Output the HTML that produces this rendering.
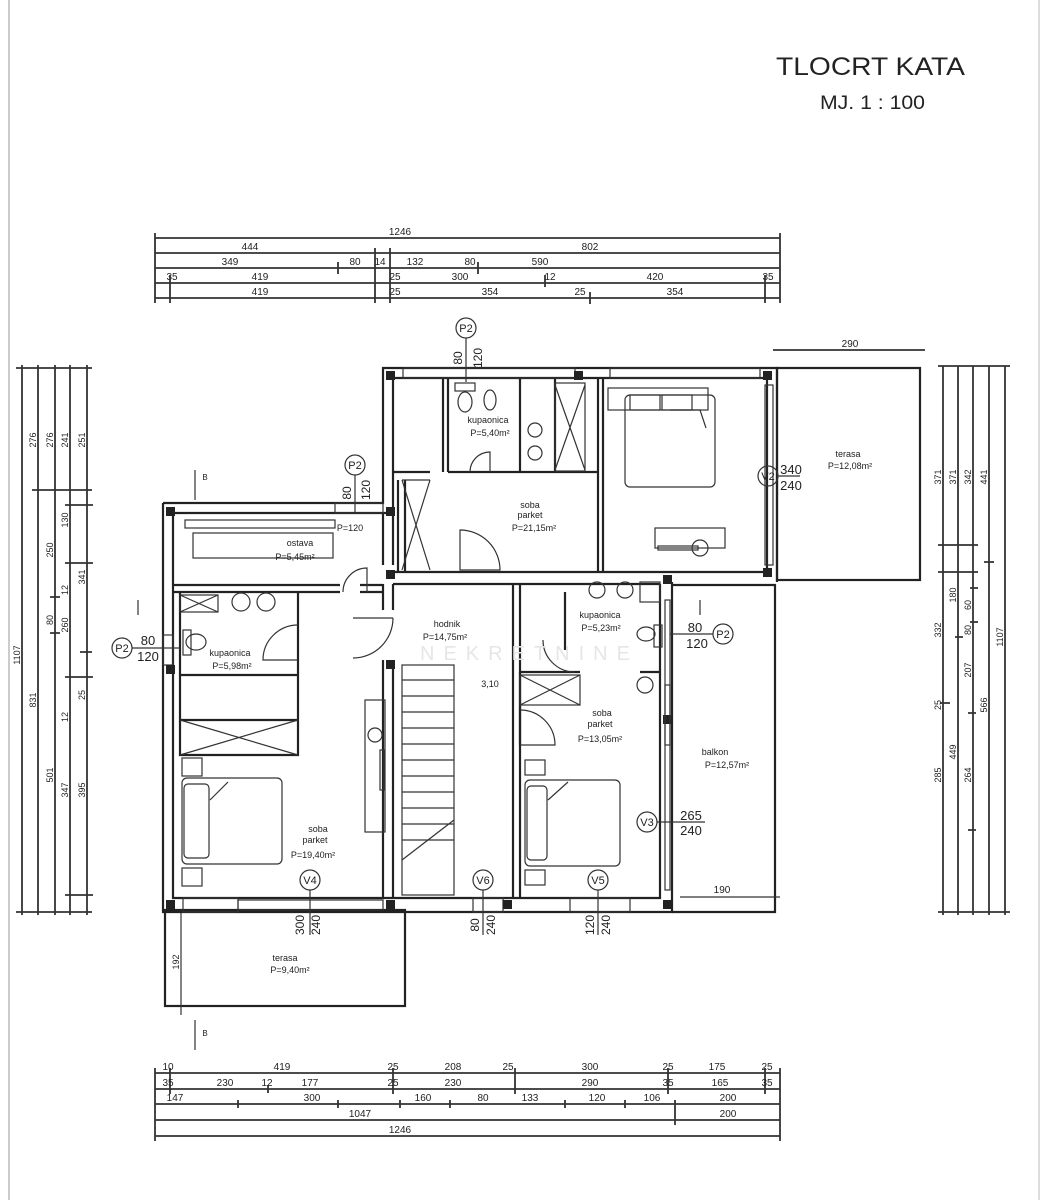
<!DOCTYPE html>
<html><head><meta charset="utf-8"><style>
html,body{margin:0;padding:0;background:#fff;}
svg{display:block;}
text{font-family:"Liberation Sans",sans-serif;fill:#222;}
.d{stroke:#333;stroke-width:1.8;fill:none;}
.w{stroke:#222;stroke-width:2.2;fill:none;}
.t{stroke:#333;stroke-width:1.2;fill:none;}
</style></head><body>
<svg width="1046" height="1200" viewBox="0 0 1046 1200" xmlns="http://www.w3.org/2000/svg">
<line x1="9" y1="0" x2="9" y2="1200" stroke="#ccc" stroke-width="2"/>
<line x1="1039" y1="0" x2="1039" y2="1200" stroke="#ddd" stroke-width="2"/>
<text x="776" y="75" font-size="25" textLength="189" lengthAdjust="spacingAndGlyphs">TLOCRT KATA</text>
<text x="820" y="109" font-size="19" textLength="105" lengthAdjust="spacingAndGlyphs">MJ. 1 : 100</text>

<!-- top dims -->
<g class="d">
<line x1="155" y1="238" x2="780" y2="238"/><line x1="155" y1="253" x2="780" y2="253"/>
<line x1="155" y1="268" x2="780" y2="268"/><line x1="155" y1="283" x2="780" y2="283"/>
<line x1="155" y1="298" x2="780" y2="298"/>
</g>
<g font-size="10" text-anchor="middle">
<text x="400" y="235">1246</text><text x="250" y="250">444</text><text x="590" y="250">802</text>
<text x="230" y="265">349</text><text x="355" y="265">80</text><text x="380" y="265">14</text><text x="415" y="265">132</text><text x="470" y="265">80</text><text x="540" y="265">590</text>
<text x="172" y="280">35</text><text x="260" y="280">419</text><text x="395" y="280">25</text><text x="460" y="280">300</text><text x="550" y="280">12</text><text x="655" y="280">420</text><text x="768" y="280">35</text>
<text x="260" y="295">419</text><text x="395" y="295">25</text><text x="490" y="295">354</text><text x="580" y="295">25</text><text x="675" y="295">354</text>
</g>
<g class="d" stroke-width="2.2">
<path d="M155 233v70M780 233v70M338 262v12M375 248v55M390 248v55M478 262v12M545 275v12M765 275v28M170 275v28M590 292v12"/>
</g>

<!-- left dims -->
<g class="d">
<line x1="22" y1="365" x2="22" y2="915"/><line x1="38" y1="365" x2="38" y2="915"/>
<line x1="55" y1="365" x2="55" y2="915"/><line x1="70" y1="365" x2="70" y2="915"/>
<line x1="87" y1="365" x2="87" y2="915"/>
</g>
<g class="d" stroke-width="2.2"><path d="M16 368h76M16 912h76M32 490h60M50 597h10M50 633h10M65 563h28M65 677h28M80 652h12M65 505h28M65 895h28"/></g>
<g font-size="9" text-anchor="middle">
<text transform="translate(20,655) rotate(-90)">1107</text>
<text transform="translate(36,440) rotate(-90)">276</text><text transform="translate(36,700) rotate(-90)">831</text>
<text transform="translate(53,440) rotate(-90)">276</text><text transform="translate(53,550) rotate(-90)">250</text><text transform="translate(53,620) rotate(-90)">80</text><text transform="translate(53,775) rotate(-90)">501</text>
<text transform="translate(68,440) rotate(-90)">241</text><text transform="translate(68,520) rotate(-90)">130</text><text transform="translate(68,590) rotate(-90)">12</text><text transform="translate(68,625) rotate(-90)">260</text><text transform="translate(68,717) rotate(-90)">12</text><text transform="translate(68,790) rotate(-90)">347</text>
<text transform="translate(85,440) rotate(-90)">251</text><text transform="translate(85,577) rotate(-90)">341</text><text transform="translate(85,695) rotate(-90)">25</text><text transform="translate(85,790) rotate(-90)">395</text>
</g>

<!-- right dims -->
<g class="d">
<line x1="943" y1="366" x2="943" y2="915"/><line x1="958" y1="366" x2="958" y2="915"/>
<line x1="973" y1="366" x2="973" y2="915"/><line x1="989" y1="366" x2="989" y2="915"/>
<line x1="1005" y1="366" x2="1005" y2="915"/>
</g>
<g class="d" stroke-width="2.2"><path d="M938 366h72M938 912h72M938 545h40M984 562h10M970 588h8M970 622h8M955 637h8M940 703h10M968 713h8M938 572h40M968 830h8"/></g>
<g font-size="9" text-anchor="middle">
<text transform="translate(941,477) rotate(-90)">371</text><text transform="translate(956,477) rotate(-90)">371</text><text transform="translate(971,477) rotate(-90)">342</text><text transform="translate(987,477) rotate(-90)">441</text>
<text transform="translate(1003,637) rotate(-90)">1107</text>
<text transform="translate(941,630) rotate(-90)">332</text><text transform="translate(956,595) rotate(-90)">180</text><text transform="translate(971,605) rotate(-90)">60</text><text transform="translate(971,630) rotate(-90)">80</text>
<text transform="translate(971,670) rotate(-90)">207</text><text transform="translate(941,705) rotate(-90)">25</text><text transform="translate(956,752) rotate(-90)">449</text><text transform="translate(987,705) rotate(-90)">566</text>
<text transform="translate(941,775) rotate(-90)">285</text><text transform="translate(971,775) rotate(-90)">264</text>
</g>

<!-- bottom dims -->
<g class="d">
<line x1="155" y1="1073" x2="780" y2="1073"/><line x1="155" y1="1089" x2="780" y2="1089"/>
<line x1="155" y1="1104" x2="780" y2="1104"/><line x1="155" y1="1120" x2="780" y2="1120"/>
<line x1="155" y1="1136" x2="780" y2="1136"/>
</g>
<g class="d" stroke-width="2.2"><path d="M155 1068v73M780 1068v73M170 1068v26M393 1068v26M515 1068v26M668 1068v26M765 1068v26M268 1085v8M238 1100v8M338 1100v8M400 1100v8M450 1100v8M565 1100v8M625 1100v8M675 1100v25"/></g>
<g font-size="10" text-anchor="middle">
<text x="168" y="1070">10</text><text x="282" y="1070">419</text><text x="393" y="1070">25</text><text x="453" y="1070">208</text><text x="508" y="1070">25</text><text x="590" y="1070">300</text><text x="668" y="1070">25</text><text x="717" y="1070">175</text><text x="767" y="1070">25</text>
<text x="168" y="1086">35</text><text x="225" y="1086">230</text><text x="267" y="1086">12</text><text x="310" y="1086">177</text><text x="393" y="1086">25</text><text x="453" y="1086">230</text><text x="590" y="1086">290</text><text x="668" y="1086">35</text><text x="720" y="1086">165</text><text x="767" y="1086">35</text>
<text x="175" y="1101">147</text><text x="312" y="1101">300</text><text x="423" y="1101">160</text><text x="483" y="1101">80</text><text x="530" y="1101">133</text><text x="597" y="1101">120</text><text x="652" y="1101">106</text><text x="728" y="1101">200</text>
<text x="360" y="1117">1047</text><text x="728" y="1117">200</text>
<text x="400" y="1133">1246</text>
</g>

<!-- right terrace -->
<rect x="777" y="368" width="143" height="212" class="w" stroke-width="2.4"/>
<line x1="773" y1="350" x2="925" y2="350" class="d"/>
<text x="850" y="347" font-size="10" text-anchor="middle">290</text>
<text x="848" y="457" font-size="9" text-anchor="middle">terasa</text>
<text x="850" y="469" font-size="9" text-anchor="middle">P=12,08m²</text>

<!-- bottom terrace -->
<rect x="165" y="910" width="240" height="96" class="w" stroke-width="2.4"/>
<line x1="181" y1="910" x2="181" y2="1015" class="t"/>
<text transform="translate(179,962) rotate(-90)" font-size="9" text-anchor="middle">192</text>
<text x="285" y="961" font-size="9" text-anchor="middle">terasa</text>
<text x="290" y="973" font-size="9" text-anchor="middle">P=9,40m²</text>

<!-- balkon -->
<path d="M672 585H775V912H672" class="w"/>
<line x1="680" y1="897" x2="780" y2="897" class="t"/>
<text x="722" y="893" font-size="10" text-anchor="middle">190</text>
<text x="715" y="755" font-size="9" text-anchor="middle">balkon</text>
<text x="727" y="768" font-size="9" text-anchor="middle">P=12,57m²</text>

<!-- building walls -->
<g class="w">
<path d="M163 503H383V368H777V582"/>
<path d="M173 513H393V378H767V572"/>
<path d="M163 503V912H672V582"/>
<path d="M173 513V898H660V584"/>
<path d="M393 572H660M393 584H660"/>
<path d="M660 572H767"/>
<path d="M383 513V565M393 513V565M383 660V898M393 660V898"/>
<path d="M383 584V610M393 584V610"/>
<path d="M173 585H340M173 592H340M360 585H383M360 592H383"/>
<path d="M513 584V898M520 584V898"/>
<path d="M398 480V572M405 480V572"/>
<path d="M443 378V472M448 378V472M448 472H598M393 472H430M598 378V572M603 378V572"/>
<path d="M520 378V472M555 378V472"/>
<path d="M180 592V720H298V592M180 675H298M180 720V755H298V720"/>
<path d="M520 672H580M640 672H660M565 592V650"/>
<path d="M520 672V745"/>
</g>
<g class="t">
<rect x="403" y="368" width="172" height="10"/><rect x="610" y="368" width="150" height="10"/>
<rect x="765" y="385" width="8" height="180"/>
<rect x="183" y="898" width="55" height="14"/><rect x="238" y="900" width="145" height="10"/>
<rect x="473" y="898" width="30" height="14"/><rect x="570" y="898" width="60" height="14"/>
<rect x="665" y="600" width="5" height="290"/>
<rect x="335" y="503" width="48" height="10"/>
<rect x="163" y="635" width="10" height="30"/>
</g>
<g fill="#222">
<rect x="386" y="371" width="9" height="9"/><rect x="574" y="371" width="9" height="9"/><rect x="763" y="371" width="9" height="9"/>
<rect x="166" y="507" width="9" height="9"/><rect x="386" y="507" width="9" height="9"/>
<rect x="386" y="570" width="9" height="9"/><rect x="763" y="568" width="9" height="9"/><rect x="663" y="575" width="9" height="9"/>
<rect x="386" y="660" width="9" height="9"/><rect x="166" y="665" width="9" height="9"/><rect x="663" y="715" width="9" height="9"/>
<rect x="166" y="900" width="9" height="9"/><rect x="386" y="900" width="9" height="9"/><rect x="503" y="900" width="9" height="9"/><rect x="663" y="900" width="9" height="9"/>
</g>

<!-- furniture -->
<g class="t">
<rect x="625" y="395" width="90" height="92" rx="5"/><rect x="630" y="395" width="30" height="15"/><rect x="662" y="395" width="30" height="15"/><rect x="608" y="388" width="100" height="22"/>
<path d="M670 410L700 410L706 428"/>
<rect x="655" y="528" width="70" height="20"/><circle cx="700" cy="548" r="8"/>
<rect x="658" y="546" width="40" height="4"/>
<ellipse cx="465" cy="402" rx="7" ry="10"/><ellipse cx="490" cy="400" rx="6" ry="10"/>
<rect x="455" y="383" width="20" height="8"/>
<circle cx="535" cy="430" r="7"/><circle cx="535" cy="453" r="7"/>
<path d="M555 385L585 470M585 385L555 470"/><rect x="555" y="383" width="30" height="88"/>
<path d="M470 472A20 20 0 0 1 490 452V472"/>
<rect x="402" y="665" width="52" height="230"/>
<path d="M402 680h52M402 696h52M402 712h52M402 728h52M402 744h52M402 760h52M402 776h52M402 792h52M402 808h52M402 824h52M402 840h52M402 860L454 820"/>
<path d="M402 480L430 570M430 480L402 570M402 480h28"/>
<path d="M460 530A40 40 0 0 1 500 570H460Z"/>
<path d="M393 618A40 40 0 0 1 353 658"/><line x1="353" y1="618" x2="393" y2="618"/>
<path d="M343 592A24 24 0 0 1 367 568V592"/>
<rect x="193" y="533" width="140" height="25"/><rect x="185" y="520" width="150" height="8"/>
<path d="M180 595L218 612M218 595L180 612"/><rect x="180" y="595" width="38" height="17"/>
<circle cx="241" cy="602" r="9"/><circle cx="266" cy="602" r="9"/>
<ellipse cx="196" cy="642" rx="10" ry="8"/><rect x="183" y="630" width="8" height="25"/>
<path d="M298 625A35 35 0 0 0 263 660H298"/>
<path d="M180 720L298 755M298 720L180 755"/>
<rect x="182" y="778" width="100" height="86" rx="5"/><rect x="184" y="784" width="25" height="74" rx="4"/>
<path d="M210 800L228 782"/><rect x="182" y="758" width="20" height="18"/><rect x="182" y="868" width="20" height="18"/>
<rect x="365" y="700" width="20" height="132"/><circle cx="375" cy="735" r="7"/>
<rect x="380" y="750" width="4" height="40"/>
<circle cx="597" cy="590" r="8"/><circle cx="625" cy="590" r="8"/><rect x="640" y="582" width="20" height="20"/>
<ellipse cx="646" cy="634" rx="9" ry="7"/><rect x="654" y="625" width="8" height="22"/>
<path d="M575 672A32 32 0 0 1 543 640"/>
<path d="M520 675L580 705M580 675L520 705"/><rect x="520" y="675" width="60" height="30"/>
<path d="M520 710A35 35 0 0 1 555 745H520"/>
<circle cx="645" cy="685" r="8"/><rect x="665" y="685" width="5" height="60"/>
<rect x="525" y="780" width="95" height="86" rx="5"/><rect x="527" y="786" width="20" height="74" rx="4"/>
<path d="M548 800L568 782"/><rect x="525" y="760" width="20" height="15"/><rect x="525" y="870" width="20" height="15"/>
</g>

<g font-size="9" text-anchor="middle">
<text x="488" y="423">kupaonica</text><text x="490" y="436">P=5,40m²</text>
<text x="530" y="508">soba</text><text x="530" y="518">parket</text><text x="534" y="531">P=21,15m²</text>
<text x="300" y="546">ostava</text><text x="295" y="560">P=5,45m²</text>
<text x="350" y="531">P=120</text>
<text x="230" y="656">kupaonica</text><text x="232" y="669">P=5,98m²</text>
<text x="447" y="627">hodnik</text><text x="445" y="640">P=14,75m²</text>
<text x="600" y="618">kupaonica</text><text x="601" y="631">P=5,23m²</text>
<text x="602" y="716">soba</text><text x="600" y="727">parket</text><text x="600" y="742">P=13,05m²</text>
<text x="318" y="832">soba</text><text x="315" y="843">parket</text><text x="313" y="858">P=19,40m²</text>
<text x="490" y="687">3,10</text>
</g>
<text x="420" y="660" font-size="20" letter-spacing="9" style="fill:#e6e6e6">NEKRETNINE</text>

<g class="t" stroke-width="1.3">
<circle cx="466" cy="328" r="10"/><line x1="466" y1="338" x2="466" y2="382"/>
<circle cx="355" cy="465" r="10"/><line x1="355" y1="475" x2="355" y2="512"/>
<circle cx="122" cy="648" r="10"/><line x1="132" y1="648" x2="180" y2="648"/>
<circle cx="723" cy="634" r="10"/><line x1="670" y1="634" x2="713" y2="634"/>
<circle cx="768" cy="476" r="10"/><line x1="778" y1="476" x2="800" y2="476"/>
<circle cx="647" cy="822" r="10"/><line x1="657" y1="822" x2="705" y2="822"/>
<circle cx="310" cy="880" r="10"/><line x1="310" y1="890" x2="310" y2="935"/>
<circle cx="483" cy="880" r="10"/><line x1="483" y1="890" x2="483" y2="935"/>
<circle cx="598" cy="880" r="10"/><line x1="598" y1="890" x2="598" y2="935"/>
<path d="M195 470v30M195 1020v30M700 600v15M138 600v15"/>
</g>
<g font-size="11" text-anchor="middle">
<text x="466" y="332">P2</text><text x="355" y="469">P2</text><text x="122" y="652">P2</text><text x="723" y="638">P2</text>
<text x="768" y="480">V2</text><text x="647" y="826">V3</text><text x="310" y="884">V4</text><text x="483" y="884">V6</text><text x="598" y="884">V5</text>
<text x="148" y="645" font-size="13">80</text><text x="148" y="661" font-size="13">120</text>
<text x="695" y="632" font-size="13">80</text><text x="697" y="648" font-size="13">120</text>
<text x="791" y="474" font-size="13">340</text><text x="791" y="490" font-size="13">240</text>
<text x="691" y="820" font-size="13">265</text><text x="691" y="835" font-size="13">240</text>
<text x="205" y="480" font-size="8">B</text><text x="205" y="1036" font-size="8">B</text>
</g>
<g font-size="12" text-anchor="middle">
<text transform="translate(462,358) rotate(-90)">80</text><text transform="translate(482,358) rotate(-90)">120</text>
<text transform="translate(351,493) rotate(-90)">80</text><text transform="translate(370,490) rotate(-90)">120</text>
<text transform="translate(304,925) rotate(-90)">300</text><text transform="translate(320,925) rotate(-90)">240</text>
<text transform="translate(479,925) rotate(-90)">80</text><text transform="translate(495,925) rotate(-90)">240</text>
<text transform="translate(594,925) rotate(-90)">120</text><text transform="translate(610,925) rotate(-90)">240</text>
</g>
</svg>
</body></html>
